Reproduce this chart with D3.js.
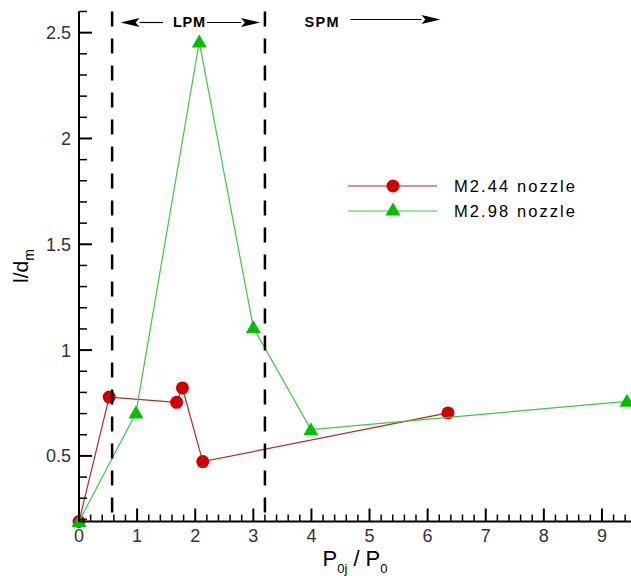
<!DOCTYPE html>
<html>
<head>
<meta charset="utf-8">
<script src="https://cdn.jsdelivr.net/npm/d3@7"></script>
<style>
html,body{margin:0;padding:0;background:#fff;}
svg{display:block;}
</style>
</head>
<body>
<svg id="chart" width="631" height="576"></svg>
<script>
// ---- data ----
const seriesNames = ["M2.44 nozzle", "M2.98 nozzle"];
const m244X = [0, 0.52, 1.68, 1.78, 2.13, 6.35];
const m244Y = [0.19, 0.778, 0.753, 0.821, 0.473, 0.703];
const m298X = [0, 0.98, 2.07, 3.0, 3.99, 9.43];
const m298Y = [0.19, 0.703, 2.456, 1.107, 0.624, 0.758];
const xTickLabels = [0, 1, 2, 3, 4, 5, 6, 7, 8, 9];
const yTickLabels = [0.5, 1, 1.5, 2, 2.5];
const regimeBounds = [0.57, 3.2];
const regimeLabels = ["LPM", "SPM"];

const svg = d3.select("#chart");
const x = d3.scaleLinear().domain([0, 9.5]).range([79, 631]);
const y = d3.scaleLinear().domain([0.19, 2.6]).range([521.5, 11.5]);

const tickFont = "'Liberation Sans', Arial, sans-serif";

const red = m244X.map((v, i) => ({x: v, y: m244Y[i]}));
const green = m298X.map((v, i) => ({x: v, y: m298Y[i]}));
const line = d3.line().x(d => x(d.x)).y(d => y(d.y));
const tri = "M0,-7.5L7.5,5.5L-7.5,5.5Z";

// red series
svg.append("path").datum(red).attr("d", line)
  .attr("fill", "none").attr("stroke", "#b22a2a").attr("stroke-width", 1.2);
svg.append("g").selectAll("circle").data(red).join("circle")
  .attr("cx", d => x(d.x)).attr("cy", d => y(d.y)).attr("r", 6.5)
  .attr("fill", "#d00000");

// green series
svg.append("path").datum(green).attr("d", line)
  .attr("fill", "none").attr("stroke", "#3fc83f").attr("stroke-width", 1.2);
svg.append("g").selectAll("path").data(green).join("path")
  .attr("d", tri)
  .attr("transform", d => `translate(${x(d.x)},${y(d.y)})`)
  .attr("fill", "#00c000");

// dashed regime lines
svg.append("g").selectAll("line").data(regimeBounds).join("line")
  .attr("x1", d => x(d)).attr("x2", d => x(d))
  .attr("y1", y(2.6)).attr("y2", y(0.19))
  .attr("stroke", "#000").attr("stroke-width", 2.5)
  .attr("stroke-dasharray", "15,12");

// axes
const ax = svg.append("g").attr("stroke", "#000");
ax.append("line").attr("x1", x(0)).attr("x2", x(9.5)).attr("y1", y(0.19)).attr("y2", y(0.19)).attr("stroke-width", 2);
ax.append("line").attr("x1", x(0)).attr("x2", x(0)).attr("y1", y(0.19)).attr("y2", y(2.6)).attr("stroke-width", 2);

const xMinor = d3.range(0, 9.5, 0.2).filter(v => Math.abs(v - Math.round(v)) > 1e-6);
const yMinor = d3.range(0.2, 2.61, 0.1).filter(v => Math.abs(v * 2 - Math.round(v * 2)) > 1e-6);

ax.selectAll(".xmaj").data(xTickLabels).join("line")
  .attr("x1", d => x(d)).attr("x2", d => x(d))
  .attr("y1", y(0.19)).attr("y2", y(0.19) - 13).attr("stroke-width", 2);
ax.selectAll(".xmin").data(xMinor).join("line")
  .attr("x1", d => x(d)).attr("x2", d => x(d))
  .attr("y1", y(0.19)).attr("y2", y(0.19) - 7).attr("stroke-width", 1.5);
ax.selectAll(".ymaj").data(yTickLabels).join("line")
  .attr("y1", d => y(d)).attr("y2", d => y(d))
  .attr("x1", x(0)).attr("x2", x(0) + 13).attr("stroke-width", 2);
ax.selectAll(".ymin").data(yMinor).join("line")
  .attr("y1", d => y(d)).attr("y2", d => y(d))
  .attr("x1", x(0)).attr("x2", x(0) + 8).attr("stroke-width", 1.5);

// tick labels
svg.append("g").selectAll("text").data(xTickLabels).join("text")
  .attr("x", d => x(d)).attr("y", 542)
  .attr("text-anchor", "middle")
  .attr("font-family", tickFont).attr("font-size", 18).attr("fill", "#333")
  .text(d => d);
svg.append("g").selectAll("text").data(yTickLabels).join("text")
  .attr("x", 71).attr("y", d => y(d) + 6.5)
  .attr("text-anchor", "end")
  .attr("font-family", tickFont).attr("font-size", 18).attr("fill", "#333")
  .text(d => d);

// axis titles
const xt = svg.append("text").attr("x", 355).attr("y", 566)
  .attr("text-anchor", "middle")
  .attr("font-family", tickFont).attr("font-size", 22).attr("fill", "#000");
xt.append("tspan").text("P");
xt.append("tspan").attr("font-size", 13).attr("dy", 7).text("0j");
xt.append("tspan").attr("dy", -7).text(" / P");
xt.append("tspan").attr("font-size", 13).attr("dy", 7).text("0");

const yt = svg.append("text")
  .attr("transform", "translate(28,266) rotate(-90)")
  .attr("text-anchor", "middle")
  .attr("font-family", tickFont).attr("font-size", 21).attr("fill", "#000");
yt.append("tspan").text("l/d");
yt.append("tspan").attr("font-size", 14).attr("dy", 6).text("m");

// regime annotations
const ann = svg.append("g");
ann.append("text").attr("x", 189).attr("y", 26.5).attr("text-anchor", "middle")
  .attr("font-family", tickFont).attr("font-weight", "bold").attr("font-size", 14.5)
  .attr("textLength", 32).text(regimeLabels[0]);
ann.append("text").attr("x", 321.5).attr("y", 26.5).attr("text-anchor", "middle")
  .attr("font-family", tickFont).attr("font-weight", "bold").attr("font-size", 14.5)
  .attr("textLength", 34).text(regimeLabels[1]);

function arrow(x1, x2, yy) {
  // arrow from x1 to tip x2
  const dir = Math.sign(x2 - x1);
  const hl = 19, hw = 4.5;
  ann.append("line").attr("x1", x1).attr("x2", x2 - dir * hl).attr("y1", yy).attr("y2", yy)
    .attr("stroke", "#000").attr("stroke-width", 1.2);
  ann.append("path")
    .attr("d", `M${x2},${yy}L${x2 - dir * hl},${yy - hw}L${x2 - dir * hl * 0.8},${yy}L${x2 - dir * hl},${yy + hw}Z`)
    .attr("fill", "#000");
}
arrow(163, 120.5, 22.5);
arrow(207, 260, 22.5);
arrow(350.5, 440.5, 19.5);

// legend
const leg = svg.append("g");
const legY = [186, 211];
const legCol = [["#b22a2a", "#d00000"], ["#3fc83f", "#00c000"]];
legY.forEach((ly, i) => {
  leg.append("line").attr("x1", 348).attr("x2", 437).attr("y1", ly).attr("y2", ly)
    .attr("stroke", legCol[i][0]).attr("stroke-width", 1.2);
  if (i === 0) {
    leg.append("circle").attr("cx", 393).attr("cy", ly).attr("r", 6.5).attr("fill", legCol[i][1]);
  } else {
    leg.append("path").attr("d", tri).attr("transform", `translate(393,${ly - 1})`).attr("fill", legCol[i][1]);
  }
  leg.append("text").attr("x", 454).attr("y", ly + 6)
    .attr("font-family", tickFont).attr("font-size", 16.5).attr("fill", "#000")
    .attr("textLength", 121).text(seriesNames[i]);
});
</script>
</body>
</html>
